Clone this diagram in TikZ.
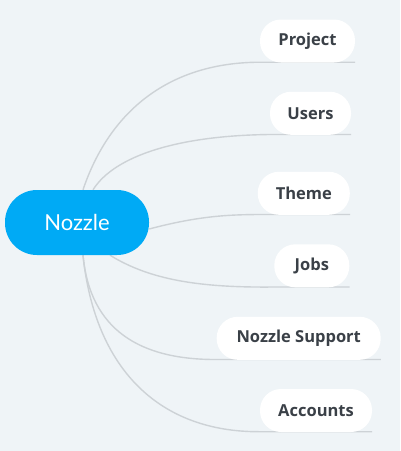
\documentclass[tikz,border=0pt]{standalone}
\usepackage{fontspec}
\setmainfont{Lato}
\newfontfamily\leaffont{Open Sans}
\usetikzlibrary{backgrounds}
\definecolor{bgc}{HTML}{EFF4F7}
\definecolor{mainc}{HTML}{00AAF5}
\definecolor{linec}{HTML}{CDD2D6}
\definecolor{txtc}{HTML}{3A4047}
\tikzset{
  root/.style={fill=mainc, text=white, rounded corners=32pt, minimum height=65pt, inner sep=0pt,
    font=\fontsize{22}{26}\selectfont},
  leaf/.style={fill=white, text=txtc, rounded corners=21pt, minimum height=43pt, inner sep=0pt,
    font=\leaffont\fontsize{16.5}{19}\selectfont\bfseries},
  conn/.style={draw=linec, line width=1.4pt},
}
\begin{document}
\begin{tikzpicture}[x=1pt,y=-1pt]
\useasboundingbox (0,0) rectangle (400,451);
\node[root, minimum width=144pt] (nozzle) at (77,222.5) {Nozzle};
\node[leaf, minimum width=95pt] (project) at (307.5,41) {Project};
\node[leaf, minimum width=81pt] (users) at (310.5,113.3) {Users};
\node[leaf, minimum width=92pt] (theme) at (303.8,193.3) {Theme};
\node[leaf, minimum width=75pt] (jobs) at (311.8,265.8) {Jobs};
\node[leaf, minimum width=164pt] (support) at (298.7,338.3) {Nozzle Support};
\node[leaf, minimum width=112pt] (accounts) at (316,410.5) {Accounts};
\begin{scope}[on background layer]
\fill[bgc] (0,0) rectangle (400,451);
\draw[conn] ([xshift=6pt]nozzle.north) .. controls (110,110) and (170,62.5) .. ([yshift=0.5pt]project.south west) -- ([yshift=0.5pt]project.south east);
\draw[conn] ([xshift=16pt]nozzle.north) .. controls (115,155) and (180,135.5) .. ([yshift=0.5pt]users.south west) -- ([yshift=0.5pt]users.south east);
\draw[conn] ([yshift=-6.5pt]nozzle.east) .. controls (200,215.5) and (230,214.8) .. ([yshift=0.5pt]theme.south west) -- ([yshift=0.5pt]theme.south east);
\draw[conn] ([xshift=33pt]nozzle.south) .. controls (150,280) and (200,287.8) .. ([yshift=0.5pt]jobs.south west) -- ([yshift=0.5pt]jobs.south east);
\draw[conn] ([xshift=6pt]nozzle.south) .. controls (90,330) and (140,359.8) .. ([yshift=0.5pt]support.south west) -- ([yshift=0.5pt]support.south east);
\draw[conn] ([xshift=6pt]nozzle.south) .. controls (95,370) and (160,432.2) .. ([yshift=0.5pt]accounts.south west) -- ([yshift=0.5pt]accounts.south east);
\end{scope}
\end{tikzpicture}
\end{document}
